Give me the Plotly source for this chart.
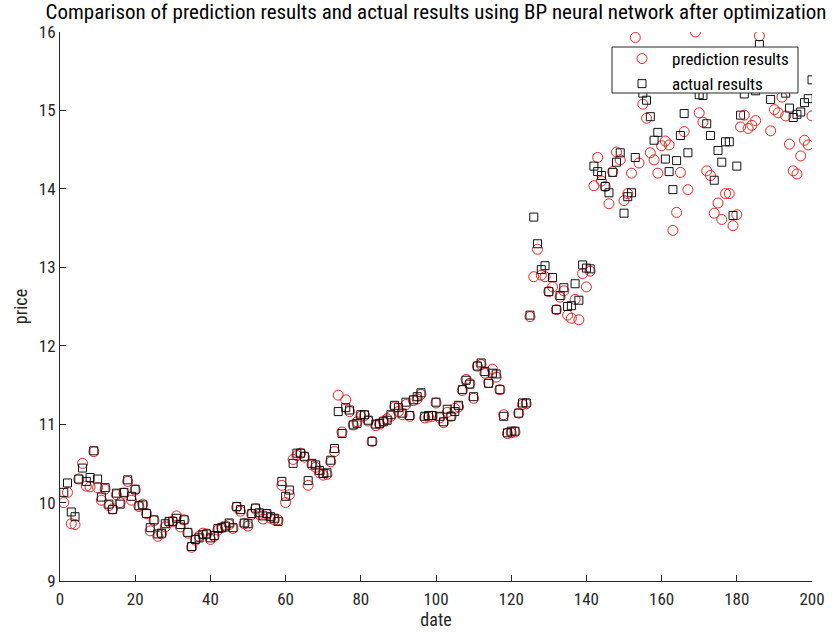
import plotly.graph_objects as go

dates = list(range(1, 201))

actual = [
    10.13, 10.25, 9.88, 9.82, 10.30, 10.44, 10.27, 10.32, 10.66, 10.30,
    10.07, 10.19, 9.98, 9.91, 10.12, 9.98, 10.13, 10.29, 10.08, 10.17,
    9.96, 9.97, 9.86, 9.68, 9.78, 9.60, 9.61, 9.73, 9.76, 9.76,
    9.80, 9.72, 9.78, 9.62, 9.44, 9.53, 9.55, 9.59, 9.60, 9.55,
    9.58, 9.67, 9.68, 9.70, 9.74, 9.68, 9.95, 9.91, 9.74, 9.73,
    9.86, 9.93, 9.87, 9.83, 9.86, 9.82, 9.80, 9.76, 10.27, 10.08,
    10.16, 10.50, 10.63, 10.63, 10.59, 10.28, 10.50, 10.48, 10.41, 10.37,
    10.38, 10.54, 10.69, 11.16, 10.88, 11.21, 11.18, 10.99, 11.01, 11.12,
    11.12, 11.05, 10.78, 11.00, 11.01, 11.03, 11.05, 11.12, 11.24, 11.21,
    11.14, 11.28, 11.11, 11.31, 11.35, 11.40, 11.10, 11.11, 11.11, 11.28,
    11.10, 11.03, 11.19, 11.10, 11.16, 11.24, 11.44, 11.56, 11.51, 11.35,
    11.74, 11.78, 11.67, 11.52, 11.65, 11.64, 11.44, 11.10, 10.89, 10.91,
    10.91, 11.14, 11.27, 11.27, 12.39, 13.64, 13.30, 12.97, 13.02, 12.69,
    12.87, 12.46, 12.64, 12.74, 12.50, 12.51, 12.79, 12.58, 13.03, 12.99,
    12.98, 14.29, 14.22, 14.17, 14.03, 13.95, 14.21, 14.34, 14.46, 13.69,
    13.90, 13.95, 14.40, 15.45, 15.22, 15.13, 14.92, 14.62, 14.72, 15.50,
    14.38, 14.22, 13.99, 14.36, 14.68, 14.96, 14.46, 15.45, 15.35, 15.20,
    15.19, 14.83, 14.68, 14.11, 14.49, 14.34, 14.60, 14.60, 13.66, 14.29,
    14.94, 15.21, 15.40, 15.50, 15.25, 15.84, 15.50, 15.35, 15.14, 15.30,
    15.40, 15.45, 15.22, 15.03, 14.91, 14.95, 14.98, 15.10, 15.15, 15.39,
]

prediction = [
    10.00, 10.13, 9.73, 9.72, 10.30, 10.50, 10.21, 10.20, 10.65, 10.19,
    10.03, 10.17, 9.96, 9.92, 10.10, 10.00, 10.12, 10.27, 10.03, 10.16,
    9.95, 9.98, 9.86, 9.64, 9.77, 9.57, 9.60, 9.69, 9.75, 9.76,
    9.83, 9.69, 9.78, 9.61, 9.43, 9.52, 9.57, 9.61, 9.60, 9.53,
    9.57, 9.65, 9.68, 9.69, 9.72, 9.67, 9.94, 9.89, 9.73, 9.70,
    9.85, 9.92, 9.85, 9.79, 9.85, 9.80, 9.78, 9.78, 10.22, 10.00,
    10.10, 10.55, 10.60, 10.63, 10.58, 10.22, 10.48, 10.45, 10.38, 10.35,
    10.36, 10.52, 10.65, 11.37, 10.90, 11.31, 11.16, 10.99, 11.03, 11.10,
    11.11, 11.04, 10.78, 10.98, 11.00, 11.04, 11.07, 11.10, 11.22, 11.16,
    11.12, 11.25, 11.10, 11.30, 11.32, 11.38, 11.08, 11.09, 11.10, 11.27,
    11.08, 11.02, 11.15, 11.10, 11.20, 11.22, 11.43, 11.57, 11.52, 11.33,
    11.74, 11.76, 11.65, 11.53, 11.70, 11.60, 11.44, 11.12, 10.88, 10.89,
    10.90, 11.14, 11.25, 11.26, 12.37, 12.88, 13.23, 12.90, 12.88, 12.69,
    12.75, 12.46, 12.62, 12.70, 12.39, 12.35, 12.59, 12.33, 12.92, 12.75,
    12.95, 14.04, 14.40, 14.10, 14.03, 13.81, 14.22, 14.47, 14.37, 13.85,
    13.94, 14.20, 15.93, 14.33, 15.08, 14.90, 14.46, 14.37, 14.20, 14.55,
    14.61, 14.56, 13.47, 13.70, 14.21, 14.73, 13.99, 15.50, 16.00, 14.97,
    14.85, 14.23, 14.17, 13.69, 13.82, 13.61, 13.94, 13.94, 13.53, 13.67,
    14.79, 14.94, 14.77, 14.81, 14.87, 15.95, 15.45, 15.35, 14.74, 15.01,
    14.97, 15.17, 14.93, 14.57, 14.23, 14.19, 14.42, 14.62, 14.56, 14.93,
]

x_ticks = [0, 20, 40, 60, 80, 100, 120, 140, 160, 180, 200]
y_ticks = [9, 10, 11, 12, 13, 14, 15, 16]

FONT = "Liberation Sans Narrow, Arial Narrow, Roboto Condensed, Liberation Sans, Arial, sans-serif"
AX = "#262626"

fig = go.Figure()
fig.add_trace(go.Scatter(
    x=dates, y=prediction, mode="markers", name="prediction results",
    marker=dict(symbol="circle-open", size=10, color="#ee2222", line=dict(width=1, color="#ee2222")),
))
fig.add_trace(go.Scatter(
    x=dates, y=actual, mode="markers", name="actual results",
    marker=dict(symbol="square-open", size=8, color="#111111", line=dict(width=1, color="#111111")),
))

PL, PT, PW, PH = 60, 32, 752, 549


def px_x(p):
    return (p - PL) / PW


def px_y(p):
    return (PT + PH - p) / PH


# legend frame (white box that hides the points underneath)
fig.add_shape(
    type="rect", xref="paper", yref="paper",
    x0=px_x(612), x1=px_x(798), y0=px_y(93), y1=px_y(47),
    fillcolor="white", line=dict(color=AX, width=1), layer="above",
)

fig.update_layout(
    width=837, height=636,
    margin=dict(l=60, r=25, t=32, b=55, autoexpand=False),
    paper_bgcolor="white", plot_bgcolor="white",
    font=dict(family=FONT, size=15, color=AX),
    title=dict(
        text="Comparison of prediction results and actual results using BP neural network after optimization",
        x=436 / 837, xref="container", xanchor="center", y=1 - 12 / 636, yref="container", yanchor="middle",
        font=dict(family=FONT, size=21, color="#000000"),
    ),
    showlegend=True,
    legend=dict(
        x=px_x(612), xref="paper", y=px_y(41), yref="paper",
        xanchor="left", yanchor="top",
        bgcolor="rgba(0,0,0,0)", borderwidth=0,
        font=dict(family=FONT, size=17, color="#000000"),
        itemsizing="trace", itemwidth=50, tracegroupgap=0,
    ),
    xaxis=dict(
        range=[0, 200], tickvals=x_ticks, ticktext=[str(v) for v in x_ticks],
        showgrid=False, zeroline=False, showline=True, linecolor=AX, linewidth=1,
        ticks="inside", ticklen=6, tickcolor=AX, mirror=False, ticklabelstandoff=3,
        title=dict(text="date", standoff=4, font=dict(family=FONT, size=18, color=AX)),
        tickfont=dict(family=FONT, size=17, color=AX),
    ),
    yaxis=dict(
        range=[9, 16], tickvals=y_ticks, ticktext=[str(v) for v in y_ticks],
        showgrid=False, zeroline=False, showline=True, linecolor=AX, linewidth=1,
        ticks="inside", ticklen=6, tickcolor=AX, mirror=False,
        title=dict(text="price", standoff=6, font=dict(family=FONT, size=18, color=AX)),
        tickfont=dict(family=FONT, size=17, color=AX),
    ),
)

fig.write_html("out.html")
